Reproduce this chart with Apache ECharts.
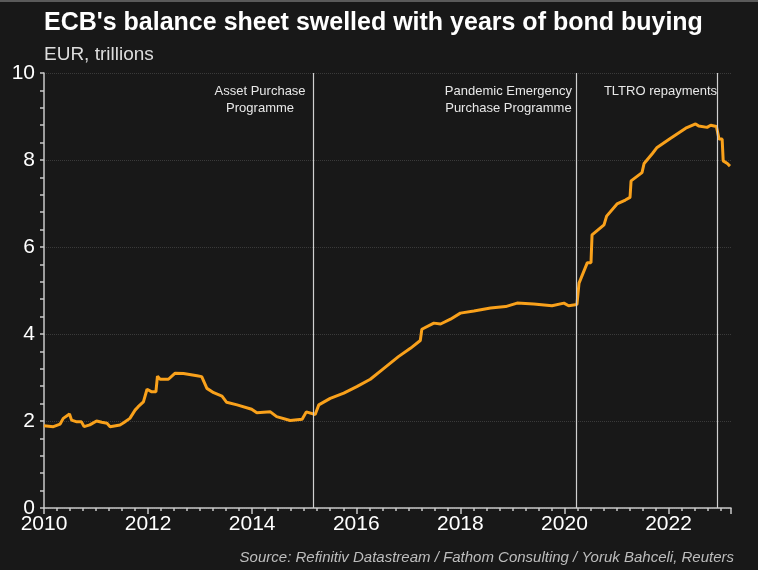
<!DOCTYPE html>
<html><head><meta charset="utf-8">
<script src="https://cdn.jsdelivr.net/npm/echarts@6/dist/echarts.min.js"></script>
<style>html,body{margin:0;padding:0;background:#181818;}#c{width:758px;height:570px;}</style>
</head><body><div id="c"></div>
<script>
const years = [2010.00, 2010.18, 2010.31, 2010.37, 2010.49, 2010.53, 2010.63, 2010.72, 2010.77, 2010.88,
  2011.01, 2011.11, 2011.21, 2011.27, 2011.46, 2011.53, 2011.65, 2011.75, 2011.81, 2011.91,
  2011.98, 2012.07, 2012.15, 2012.18, 2012.23, 2012.39, 2012.52, 2012.68, 2012.94, 2013.03,
  2013.13, 2013.26, 2013.42, 2013.51, 2013.71, 2013.99, 2014.09, 2014.35, 2014.47, 2014.73,
  2014.96, 2015.04, 2015.21, 2015.28, 2015.50, 2015.76, 2016.01, 2016.27, 2016.53, 2016.81,
  2017.04, 2017.23, 2017.26, 2017.49, 2017.62, 2017.81, 2018.00, 2018.26, 2018.58, 2018.87,
  2019.09, 2019.41, 2019.76, 2019.99, 2020.08, 2020.24, 2020.28, 2020.44, 2020.51, 2020.53,
  2020.76, 2020.81, 2021.01, 2021.17, 2021.26, 2021.28, 2021.49, 2021.53, 2021.69, 2021.78,
  2022.04, 2022.33, 2022.52, 2022.58, 2022.74, 2022.81, 2022.92, 2022.97, 2023.03, 2023.05,
  2023.13, 2023.18];
const values = [1.89, 1.87, 1.93, 2.06, 2.16, 2.02, 1.98, 1.98, 1.87, 1.91,
  2.00, 1.97, 1.95, 1.87, 1.91, 1.96, 2.06, 2.25, 2.33, 2.44,
  2.73, 2.67, 2.67, 3.03, 2.96, 2.96, 3.10, 3.09, 3.04, 3.02,
  2.75, 2.65, 2.57, 2.43, 2.37, 2.27, 2.19, 2.21, 2.10, 2.01,
  2.04, 2.21, 2.15, 2.37, 2.52, 2.64, 2.79, 2.96, 3.21, 3.48,
  3.67, 3.85, 4.11, 4.25, 4.23, 4.34, 4.48, 4.53, 4.60, 4.63,
  4.71, 4.69, 4.65, 4.71, 4.65, 4.68, 5.17, 5.64, 5.64, 6.28,
  6.51, 6.71, 6.99, 7.08, 7.14, 7.52, 7.71, 7.92, 8.15, 8.29,
  8.50, 8.73, 8.83, 8.78, 8.75, 8.80, 8.77, 8.48, 8.48, 7.98,
  7.92, 7.86];
const eventYears = [2015.17, 2020.23, 2022.94];
const eventLabels = ['Asset Purchase\nProgramme', 'Pandemic Emergency\nPurchase Programme', 'TLTRO repayments'];
const xMin = 2010, xMax = 2023.2, xStep = 2;
const yMin = 0, yMax = 10, yStep = 2;

const FONT = '"Liberation Sans", Arial, sans-serif';
const chart = echarts.init(document.getElementById('c'));
const seriesData = years.map((y, i) => [y, values[i]]);

chart.setOption({
  backgroundColor: '#181818',
  animation: false,
  grid: { left: 44, right: 27, top: 73, bottom: 62 },
  xAxis: {
    type: 'value', min: xMin, max: xMax, interval: xStep,
    axisLine: { show: true, lineStyle: { color: '#c8c8c8', width: 1.5 } },
    axisTick: { show: true, length: 6, lineStyle: { color: '#c8c8c8', width: 1.5 } },
    minorTick: { show: true, splitNumber: 8, length: 3, lineStyle: { color: '#c8c8c8', width: 1.5 } },
    splitLine: { show: false },
    axisLabel: { color: '#ffffff', fontSize: 21, fontFamily: FONT, margin: 6, showMaxLabel: false,
      formatter: v => (Math.abs(v % xStep) < 1e-6 ? String(v) : '') }
  },
  yAxis: {
    type: 'value', min: yMin, max: yMax, interval: yStep,
    axisLine: { show: true, lineStyle: { color: '#c8c8c8', width: 1.5 } },
    axisTick: { show: true, length: 4, lineStyle: { color: '#c8c8c8', width: 1.5 } },
    minorTick: { show: true, splitNumber: 5, length: 4, lineStyle: { color: '#c8c8c8', width: 1.5 } },
    splitLine: { show: true, lineStyle: { color: '#3a3a3a', type: 'dotted', width: 1 } },
    axisLabel: { color: '#ffffff', fontSize: 21, fontFamily: FONT, margin: 9 }
  },
  series: [{
    type: 'line', data: seriesData, showSymbol: false, symbol: 'none',
    lineStyle: { color: '#f9a11b', width: 3 }, z: 3,
    markLine: {
      silent: true, symbol: ['none', 'none'], label: { show: false },
      lineStyle: { color: '#d0d0d0', width: 1.2, type: 'solid' },
      data: eventYears.map(y => ({ xAxis: y }))
    }
  }]
});

const labelOffsets = [53, 68, 57];
const texts = eventYears.map((y, i) => {
  const px = chart.convertToPixel({ xAxisIndex: 0, yAxisIndex: 0 }, [y, yMax]);
  return {
    type: 'text',
    x: px[0] - labelOffsets[i], y: px[1] + 10,
    style: { text: eventLabels[i], fill: '#e8e8e8', font: '13px ' + FONT, textAlign: 'center', textVerticalAlign: 'top', lineHeight: 17 }
  };
});

chart.setOption({
  graphic: [
    { type: 'rect', shape: { x: 0, y: 0, width: 758, height: 2 }, style: { fill: '#5a5a5a' } },
    { type: 'text', x: 44, y: 11, style: { text: "ECB's balance sheet swelled with years of bond buying", fill: '#ffffff', font: 'bold 25px ' + FONT, textVerticalAlign: 'top' } },
    { type: 'text', x: 44, y: 45, style: { text: 'EUR, trillions', fill: '#dddddd', font: '19px ' + FONT, textVerticalAlign: 'top' } },
    { type: 'text', x: 734, y: 558, style: { text: 'Source: Refinitiv Datastream / Fathom Consulting / Yoruk Bahceli, Reuters', fill: '#bdbdbd', font: 'italic 15px ' + FONT, textAlign: 'right', textVerticalAlign: 'middle' } }
  ].concat(texts)
});
</script></body></html>
